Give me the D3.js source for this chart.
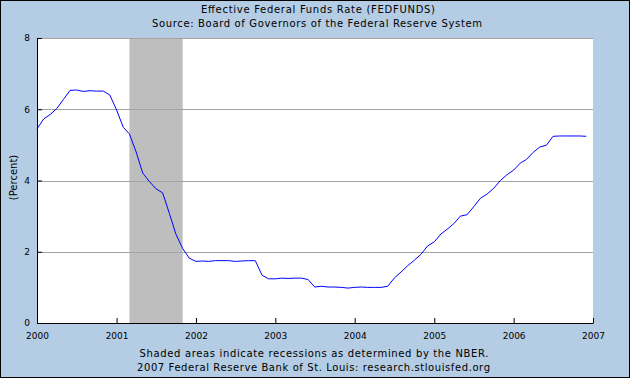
<!DOCTYPE html>
<html>
<head>
<meta charset="utf-8">
<script src="https://cdn.jsdelivr.net/npm/d3@7"></script>
<style>
    body { margin: 0; background: #fff; }
    #chart { width: 630px; height: 378px; }
    text { font-family: "DejaVu Sans", sans-serif; fill: #000; }
</style>
</head>
<body>
<div id="chart"></div>
<script>
// monthly effective federal funds rate, percent
var rate2000 = [5.45, 5.73, 5.85, 6.02, 6.27, 6.53, 6.54, 6.50, 6.52, 6.51, 6.51, 6.40];
var rate2001 = [5.98, 5.49, 5.31, 4.80, 4.21, 3.97, 3.77, 3.65, 3.07, 2.49, 2.09, 1.82];
var rate2002 = [1.73, 1.74, 1.73, 1.75, 1.75, 1.75, 1.73, 1.74, 1.75, 1.75, 1.34, 1.24];
var rate2003 = [1.24, 1.26, 1.25, 1.26, 1.26, 1.22, 1.01, 1.03, 1.01, 1.01, 1.00, 0.98];
var rate2004 = [1.00, 1.01, 1.00, 1.00, 1.00, 1.03, 1.26, 1.43, 1.61, 1.76, 1.93, 2.16];
var rate2005 = [2.28, 2.50, 2.63, 2.79, 3.00, 3.04, 3.26, 3.50, 3.62, 3.78, 4.00, 4.16];
var rate2006 = [4.29, 4.49, 4.59, 4.79, 4.94, 4.99, 5.24, 5.25, 5.25, 5.25, 5.25, 5.24];

var years = [2000, 2001, 2002, 2003, 2004, 2005, 2006, 2007];
var yTicks = [0, 2, 4, 6, 8];
var recession = [[2001, 2], [2001, 10]]; // Mar 2001 - Nov 2001 (year, month index)

var titleLines = ["Effective Federal Funds Rate (FEDFUNDS)",
    "Source: Board of Governors of the Federal Reserve System"];
var footLines = ["Shaded areas indicate recessions as determined by the NBER.",
    "2007 Federal Reserve Bank of St. Louis: research.stlouisfed.org"];

function FedChart() {

    var self = this;

    self.initialize = function () {
        self.el = document.getElementById("chart");
        self.graphWidth = 630;
        self.graphHeight = 378;
        self.margin = { top: 38, right: 37, bottom: 55, left: 37 };
        self.width = self.graphWidth - self.margin.left - self.margin.right;
        self.height = self.graphHeight - self.margin.top - self.margin.bottom;

        self.data = [];
        [rate2000, rate2001, rate2002, rate2003, rate2004, rate2005, rate2006].forEach(function (arr, yi) {
            arr.forEach(function (v, m) {
                self.data.push({ date: new Date(years[0] + yi, m, 1), value: v });
            });
        });

        self.xScale = d3.scaleTime()
            .range([0, self.width])
            .domain([new Date(years[0], 0, 1), new Date(years[years.length - 1], 0, 1)]);
        self.yScale = d3.scaleLinear()
            .range([self.height, 0])
            .domain([0, 8]);

        self.render();
    }

    self.render = function () {
        self.svg0 = d3.select(self.el).append("svg")
            .attr("width", self.graphWidth)
            .attr("height", self.graphHeight);

        self.svg0.append("rect")
            .attr("x", 0.5).attr("y", 0.5)
            .attr("width", self.graphWidth - 1).attr("height", self.graphHeight - 1)
            .attr("fill", "#b4cde4")
            .attr("stroke", "#000");

        self.svg = self.svg0.append("g")
            .attr("transform", "translate(" + self.margin.left + "," + self.margin.top + ")");

        self.svg.append("rect")
            .attr("width", self.width).attr("height", self.height)
            .attr("fill", "#fff");

        /*  recession shading  */
        var r0 = self.xScale(new Date(recession[0][0], recession[0][1], 1));
        var r1 = self.xScale(new Date(recession[1][0], recession[1][1], 1));
        self.svg.append("rect")
            .attr("x", r0).attr("y", 0)
            .attr("width", r1 - r0).attr("height", self.height)
            .attr("fill", "#bebebe");

        /*  grid lines  */
        self.svg.selectAll(".grid")
            .data(yTicks.filter(function (d) { return d > 0; }))
            .enter().append("line")
            .attr("class", "grid")
            .attr("x1", 0).attr("x2", self.width)
            .attr("y1", function (d) { return Math.round(self.yScale(d)) + 0.5; })
            .attr("y2", function (d) { return Math.round(self.yScale(d)) + 0.5; })
            .attr("stroke", "#a4a4a4");

        self.renderAxes();
        self.renderLine();
        self.renderTexts();
    }

    self.renderAxes = function () {
        var xAxis = self.svg.append("g")
            .attr("transform", "translate(0," + self.height + ")")
            .call(d3.axisBottom(self.xScale)
                .tickValues(years.map(function (y) { return new Date(y, 0, 1); }))
                .tickFormat(d3.timeFormat("%Y"))
                .tickSizeInner(-5).tickSizeOuter(0).tickPadding(10));
        xAxis.select(".domain").attr("stroke", "#000");
        xAxis.selectAll(".tick line").attr("stroke", "#000");
        xAxis.selectAll(".tick text").attr("font-size", "9px")
            .attr("font-family", "DejaVu Sans, sans-serif");

        var yAxis = self.svg.append("g")
            .call(d3.axisLeft(self.yScale)
                .tickValues(yTicks)
                .tickSizeInner(-5).tickSizeOuter(0).tickPadding(7));
        yAxis.select(".domain").attr("stroke", "#000");
        yAxis.selectAll(".tick line").attr("stroke", "#000");
        yAxis.selectAll(".tick text").attr("font-size", "9px")
            .attr("font-family", "DejaVu Sans, sans-serif");
    }

    self.renderLine = function () {
        var line = d3.line()
            .x(function (d) { return self.xScale(d.date); })
            .y(function (d) { return self.yScale(d.value); });
        self.svg.append("path")
            .datum(self.data)
            .attr("d", line)
            .attr("fill", "none")
            .attr("stroke", "#0000ff")
            .attr("stroke-width", 1);
    }

    self.renderTexts = function () {
        // text widths as measured on the original (its renderer used wide integer advances)
        var titleW = [234, 330], titleY = [12.5, 27], titleX = [318, 317];
        var footW = [349, 353], footY = [357, 370.5], footX = [314, 313.5];

        self.svg0.selectAll(".title")
            .data(titleLines)
            .enter().append("text")
            .attr("class", "title")
            .attr("x", function (d, i) { return titleX[i]; })
            .attr("y", function (d, i) { return titleY[i]; })
            .attr("text-anchor", "middle")
            .attr("font-size", "10px")
            .attr("textLength", function (d, i) { return titleW[i]; })
            .attr("lengthAdjust", "spacing")
            .text(function (d) { return d; });

        self.svg0.selectAll(".foot")
            .data(footLines)
            .enter().append("text")
            .attr("class", "foot")
            .attr("x", function (d, i) { return footX[i]; })
            .attr("y", function (d, i) { return footY[i]; })
            .attr("text-anchor", "middle")
            .attr("font-size", "10px")
            .attr("textLength", function (d, i) { return footW[i]; })
            .attr("lengthAdjust", "spacing")
            .text(function (d) { return d; });

        self.svg0.append("text")
            .attr("transform", "translate(16.5," + (self.margin.top + self.height / 2 - 3) + ") rotate(-90)")
            .attr("text-anchor", "middle")
            .attr("font-size", "10px")
            .text("(Percent)");
    }
}

new FedChart().initialize();
</script>
</body>
</html>
